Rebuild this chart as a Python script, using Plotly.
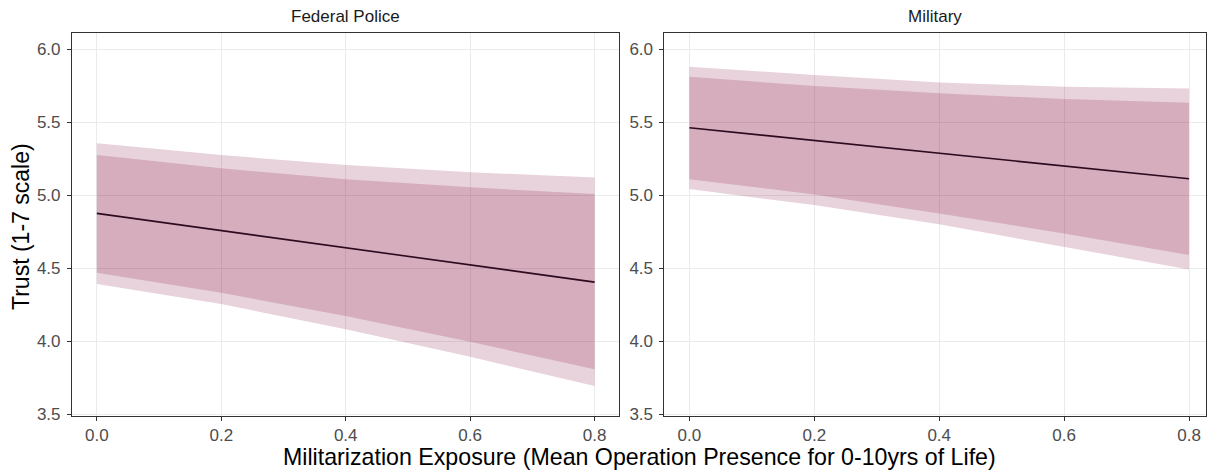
import plotly.graph_objects as go

x_pts = [0.0, 0.2, 0.4, 0.6, 0.8]
panels = ["Federal Police", "Military"]

# Federal Police
fp_fit = [4.876, 4.759, 4.641, 4.524, 4.406]
fp_outer_hi = [5.355, 5.275, 5.207, 5.157, 5.122]
fp_outer_lo = [4.393, 4.256, 4.083, 3.895, 3.695]
fp_inner_hi = [5.275, 5.184, 5.110, 5.054, 5.008]
fp_inner_lo = [4.470, 4.333, 4.174, 3.998, 3.809]

# Military
mi_fit = [5.462, 5.375, 5.288, 5.200, 5.113]
mi_outer_hi = [5.879, 5.822, 5.772, 5.742, 5.731]
mi_outer_lo = [5.042, 4.933, 4.801, 4.648, 4.493]
mi_inner_hi = [5.811, 5.747, 5.697, 5.658, 5.633]
mi_inner_lo = [5.109, 5.006, 4.876, 4.739, 4.591]

y_ticks = [3.5, 4.0, 4.5, 5.0, 5.5, 6.0]
x_ticks = [0.0, 0.2, 0.4, 0.6, 0.8]

W, H = 1207, 474
K = 474 / 466  # vertical compensation
band_col = "rgba(127,5,55,0.18)"
line_col = "#2d0a1f"
grid_col = "#EBEBEB"
frame_col = "#333333"
FONT = "Liberation Sans, Arial, Helvetica"

fig = go.Figure()

data = [
    (fp_fit, fp_outer_hi, fp_outer_lo, fp_inner_hi, fp_inner_lo, "x", "y"),
    (mi_fit, mi_outer_hi, mi_outer_lo, mi_inner_hi, mi_inner_lo, "x2", "y2"),
]
for fit, ohi, olo, ihi, ilo, xa, ya in data:
    for hi, lo in [(ohi, olo), (ihi, ilo)]:
        fig.add_trace(go.Scatter(x=x_pts, y=lo, mode="lines", line=dict(width=0),
                                 xaxis=xa, yaxis=ya, showlegend=False, hoverinfo="skip"))
        fig.add_trace(go.Scatter(x=x_pts, y=hi, mode="lines", line=dict(width=0),
                                 fill="tonexty", fillcolor=band_col,
                                 xaxis=xa, yaxis=ya, showlegend=False, hoverinfo="skip"))
    fig.add_trace(go.Scatter(x=x_pts, y=fit, mode="lines", line=dict(color=line_col, width=1.6),
                             xaxis=xa, yaxis=ya, showlegend=False))


def py(px):
    return 1 - px * K / H


ydom = [py(416), py(33)]
axis_common = dict(showline=True, mirror=True, linecolor=frame_col, linewidth=1,
                   ticks="outside", ticklen=4, tickcolor=frame_col, tickwidth=1,
                   showgrid=True, gridcolor=grid_col, gridwidth=1.2, zeroline=False,
                   tickfont=dict(family=FONT, size=17, color="#4D4D4D"))
xaxis_common = dict(ticklabelstandoff=0, **axis_common)
yaxis_common = dict(ticklabelstandoff=3, **axis_common)

fig.update_layout(
    width=W, height=H,
    margin=dict(l=0, r=0, t=0, b=0),
    plot_bgcolor="white", paper_bgcolor="white",
    xaxis=dict(domain=[72 / W, 620 / W], range=[-0.04, 0.84], tickvals=x_ticks,
               ticktext=[f"{v:.1f}" for v in x_ticks], anchor="y", **xaxis_common),
    yaxis=dict(domain=ydom, range=[3.49, 6.11], tickvals=y_ticks,
               ticktext=[f"{v:.1f}" for v in y_ticks], anchor="x", **yaxis_common),
    xaxis2=dict(domain=[665 / W, 1.0], range=[-0.04, 0.8272], tickvals=x_ticks,
                ticktext=[f"{v:.1f}" for v in x_ticks], anchor="y2", **xaxis_common),
    yaxis2=dict(domain=ydom, range=[3.49, 6.11], tickvals=y_ticks,
                ticktext=[f"{v:.1f}" for v in y_ticks], anchor="x2", **yaxis_common),
)

annotations = [
    dict(text=panels[0], x=(72 + 620) / 2 / W, y=py(16), xref="paper", yref="paper",
         showarrow=False, font=dict(family=FONT, size=17, color="#1A1A1A"),
         xanchor="center", yanchor="middle"),
    dict(text=panels[1], x=(665 + 1207) / 2 / W, y=py(16), xref="paper", yref="paper",
         showarrow=False, font=dict(family=FONT, size=17, color="#1A1A1A"),
         xanchor="center", yanchor="middle"),
    dict(text="Militarization Exposure (Mean Operation Presence for 0-10yrs of Life)",
         x=640 / W, y=py(457), xref="paper", yref="paper", showarrow=False,
         font=dict(family=FONT, size=23.2, color="black"),
         xanchor="center", yanchor="middle"),
    dict(text="Trust (1-7 scale)", x=21 / W, y=py(226), xref="paper", yref="paper",
         showarrow=False, textangle=-90,
         font=dict(family=FONT, size=23, color="black"),
         xanchor="center", yanchor="middle"),
]
fig.update_layout(annotations=annotations)

fig.write_html(
    "out.html",
    include_plotlyjs=True,
    config={"displayModeBar": False},
    post_script="document.body.style.margin='0';document.body.style.overflow='hidden';",
)
